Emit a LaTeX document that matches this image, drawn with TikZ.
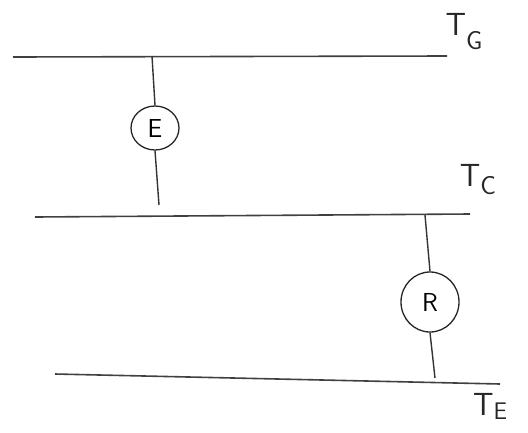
\documentclass[tikz,border=0pt]{standalone}
\usetikzlibrary{shapes.geometric}
\begin{document}
\begin{tikzpicture}[x=1pt,y=-1pt,
  wire/.style={draw=black!80,line width=1.4pt},
  lvl/.style={draw=black!75,line width=1.6pt},
  unit/.style={ellipse,draw=black!85,line width=1.3pt,inner sep=0pt,font=\sffamily\fontsize{26}{28}\selectfont},
  lab/.style={font=\sffamily\fontsize{32}{36}\selectfont,text=black!85}]
\useasboundingbox (0,0) rectangle (528,432);
% level lines
\coordinate (g1) at (13,57); \coordinate (g2) at (447,56);
\coordinate (c1) at (35,217); \coordinate (c2) at (470,214);
\coordinate (e1) at (55,374); \coordinate (e2) at (500,384);
\draw[lvl] (g1) -- (g2);
\draw[lvl] (c1) -- (c2);
\draw[lvl] (e1) -- (e2);
% labels
\node[lab] (TG) at (464,32) {T\raisebox{-14pt}{\fontsize{26}{28}\selectfont G}};
\node[lab] (TC) at (478,180) {T\raisebox{-8pt}{\fontsize{26}{28}\selectfont C}};
\node[lab] (TE) at (490,406) {T\raisebox{-4pt}{\fontsize{24}{28}\selectfont E}};
% E unit
\node[unit,minimum width=48pt,minimum height=44pt] (E) at (155,128) {E};
\coordinate (Etop) at (152,56);
\coordinate (Ebot) at (159,205);
\draw[wire] (Etop) -- (E.north);
\draw[wire] (E.south) -- (Ebot);
% R unit
\node[unit,minimum width=58pt,minimum height=60pt] (R) at (430,302) {R};
\coordinate (Rtop) at (425,215);
\coordinate (Rbot) at (435,378);
\draw[wire] (Rtop) -- (R.north);
\draw[wire] (R.south) -- (Rbot);
\end{tikzpicture}
\end{document}
